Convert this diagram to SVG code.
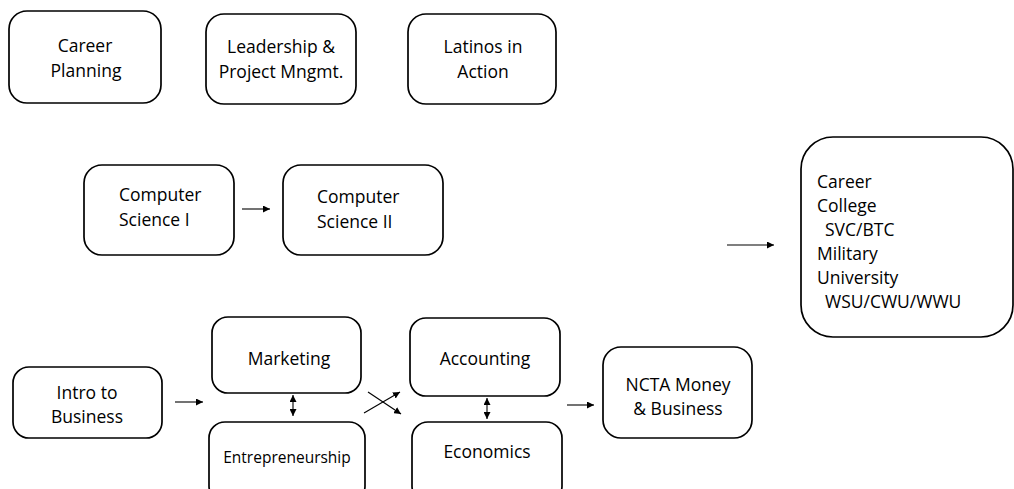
<svg xmlns="http://www.w3.org/2000/svg" width="1014" height="489" viewBox="0 0 1014 489">
<style>
.box{fill:#fff;stroke:#000;stroke-width:1.7}
.t{font-family:"Open Sans","Noto Sans",sans-serif;font-size:17.5px;fill:#000}
.c{text-anchor:middle}
.s{font-size:15.5px}
.ln{stroke:#000;stroke-width:1.1;fill:none}
</style>
<defs>
<marker id="ah" viewBox="0 0 10 10" refX="10" refY="5" markerWidth="7" markerHeight="7" markerUnits="userSpaceOnUse" orient="auto-start-reverse">
<path d="M0,0 L10,5 L0,10 z" fill="#000"/>
</marker>
</defs>
<rect width="1014" height="489" fill="#fff"/>
<g id="career-planning"><rect class="box" x="9" y="11" width="152" height="92" rx="18"/><text class="t c" x="85" y="52">Career</text><text class="t c" x="86" y="77">Planning</text></g>
<g id="leadership"><rect class="box" x="206" y="14" width="150" height="90" rx="18"/><text class="t c" x="281" y="53">Leadership &amp;</text><text class="t c" x="281" y="78">Project Mngmt.</text></g>
<g id="latinos"><rect class="box" x="408" y="14" width="148" height="90" rx="18"/><text class="t c" x="483" y="53">Latinos in</text><text class="t c" x="483" y="78">Action</text></g>
<g id="cs1"><rect class="box" x="84" y="165" width="150" height="90" rx="18"/><text class="t" x="119" y="201">Computer</text><text class="t" x="119" y="226">Science I</text></g>
<g id="cs2"><rect class="box" x="283" y="165" width="160" height="90" rx="18"/><text class="t" x="317" y="203">Computer</text><text class="t" x="317" y="228">Science II</text></g>
<g id="outcomes"><rect class="box" x="801" y="137" width="212" height="200" rx="32"/>
<text class="t" x="817" y="188">Career</text><text class="t" x="817" y="212">College</text><text class="t" x="825" y="236">SVC/BTC</text><text class="t" x="817" y="260">Military</text><text class="t" x="817" y="284">University</text><text class="t" x="825" y="308">WSU/CWU/WWU</text></g>
<g id="intro"><rect class="box" x="13" y="367" width="149" height="71" rx="16"/><text class="t c" x="87" y="399">Intro to</text><text class="t c" x="87" y="423">Business</text></g>
<g id="marketing"><rect class="box" x="212" y="317" width="149" height="76" rx="16"/><text class="t c" x="289" y="365">Marketing</text></g>
<g id="entrepreneurship"><rect class="box" x="209" y="422" width="156" height="80" rx="16"/><text class="t c s" x="287" y="463">Entrepreneurship</text></g>
<g id="accounting"><rect class="box" x="410" y="318" width="150" height="78" rx="16"/><text class="t c" x="485" y="365">Accounting</text></g>
<g id="economics"><rect class="box" x="412" y="422" width="150" height="80" rx="16"/><text class="t c" x="487" y="458">Economics</text></g>
<g id="ncta"><rect class="box" x="603" y="347" width="149" height="91" rx="18"/><text class="t c" x="678" y="391">NCTA Money</text><text class="t c" x="678" y="415">&amp; Business</text></g>
<g id="connectors">
<line class="ln" x1="242" y1="209" x2="270" y2="209" marker-end="url(#ah)"/>
<line class="ln" x1="175" y1="402" x2="203" y2="402" marker-end="url(#ah)"/>
<line class="ln" x1="293" y1="395" x2="293" y2="416" marker-start="url(#ah)" marker-end="url(#ah)"/>
<line class="ln" x1="364" y1="413" x2="400" y2="392" marker-end="url(#ah)"/>
<line class="ln" x1="368" y1="392" x2="401" y2="414" marker-end="url(#ah)"/>
<line class="ln" x1="487" y1="398" x2="487" y2="419" marker-start="url(#ah)" marker-end="url(#ah)"/>
<line class="ln" x1="567" y1="405" x2="594" y2="405" marker-end="url(#ah)"/>
<line class="ln" x1="727" y1="245" x2="774" y2="245" marker-end="url(#ah)"/>
</g>
</svg>
